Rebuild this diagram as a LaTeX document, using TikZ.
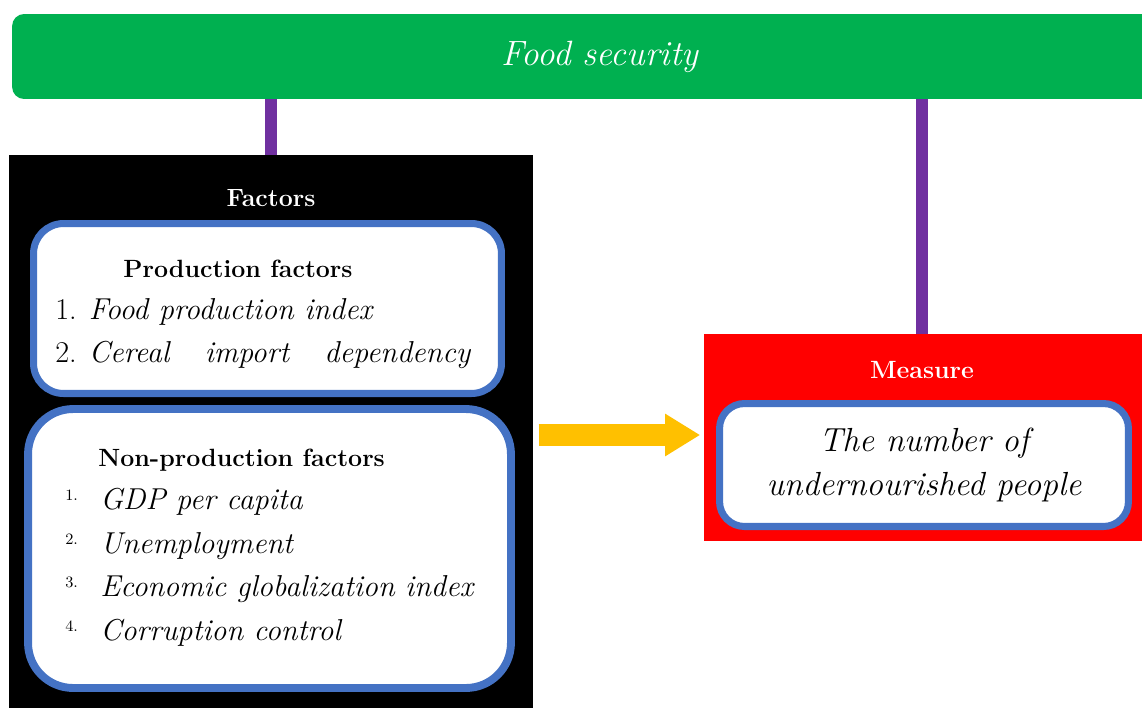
\documentclass[tikz,border=0pt]{standalone}
\usetikzlibrary{arrows.meta}
\definecolor{fsgreen}{HTML}{00B050}
\definecolor{linkpurple}{HTML}{7030A0}
\definecolor{frameblue}{HTML}{4472C4}
\definecolor{arrowyellow}{HTML}{FFC000}
\definecolor{measred}{HTML}{FF0000}
\newcommand{\bigit}{\fontsize{17.2}{21}\selectfont\itshape}
\newcommand{\headbf}{\fontsize{14.2}{17}\selectfont\bfseries}
\newcommand{\tinynum}{\fontsize{9}{10}\selectfont}
\begin{document}
\begin{tikzpicture}[x=0.02cm,y=-0.02cm,
	box/.style={draw=frameblue, fill=white, line width=4pt},
	link/.style={draw=linkpurple, line width=6.8pt},
	item/.style={anchor=west, inner sep=0pt, font=\bigit},
	num/.style={anchor=west, inner sep=0pt, font=\tinynum}]
	\useasboundingbox (0,0) rectangle (1142,707);
	\clip (0,0) rectangle (1142,707);
	\node[fill=fsgreen, rounded corners=0.24cm, minimum width=23.52cm, minimum height=1.7cm, text=white, font=\fontsize{20}{24}\selectfont\itshape] (fs) at (600,56.5) {Food security};
	\node[fill=black, minimum width=10.48cm, minimum height=12.1cm] (fac) at (271,457.5) {};
	\node[text=white, font=\headbf] (factt) at (271,198) {Factors};
	\node[box, rounded corners=0.6cm, minimum width=9.36cm, minimum height=3.4cm] (prod) at (267.5,308.5) {};
	\node[font=\headbf] (prodt) at (238,269) {Production factors};
	\node[item] (p1) at (55,312) {\upshape 1. \itshape Food production index};
	\node[item] (p2) at (55,355) {\makebox[8.3cm][l]{\upshape 2. \itshape Cereal\hfill import\hfill dependency}};
	\node[box, line width=4.5pt, rounded corners=0.9cm, minimum width=9.66cm, minimum height=5.58cm] (nonprod) at (269.5,548.5) {};
	\node[font=\headbf, anchor=west, inner sep=0pt] (nonprodt) at (98,460) {Non-production factors};
	\node[num] (n1) at (65,495) {1.};
	\node[item] (i1) at (100,502) {GDP per capita};
	\node[num] (n2) at (65,539) {2.};
	\node[item] (i2) at (100,546) {Unemployment};
	\node[num] (n3) at (65,582) {3.};
	\node[item] (i3) at (100,589) {Economic globalization index};
	\node[num] (n4) at (65,626) {4.};
	\node[item] (i4) at (100,633) {Corruption control};
	\node[fill=measred, minimum width=9.12cm, minimum height=4.14cm] (meas) at (932,437.5) {};
	\node[text=white, font=\headbf] (meast) at (922,370) {Measure};
	\node[box, rounded corners=0.5cm, minimum width=8.18cm, minimum height=2.46cm, align=center, font=\fontsize{19}{25.5}\selectfont\itshape] (undern) at (924,465) {The number of\\undernourished people};
	\draw[link] (fac.north) -- (fac.north |- fs.south);
	\draw[link] (meas.north -| meast.north) -- (fs.south -| meast.north);
	\coordinate (ay) at (0,435);
	\draw[draw=arrowyellow, line width=0.44cm, -{Triangle[length=0.7cm,width=0.8cm]}, shorten <=3pt, shorten >=2pt] (fac.east |- ay) -- (meas.west |- ay);
\end{tikzpicture}
\end{document}
